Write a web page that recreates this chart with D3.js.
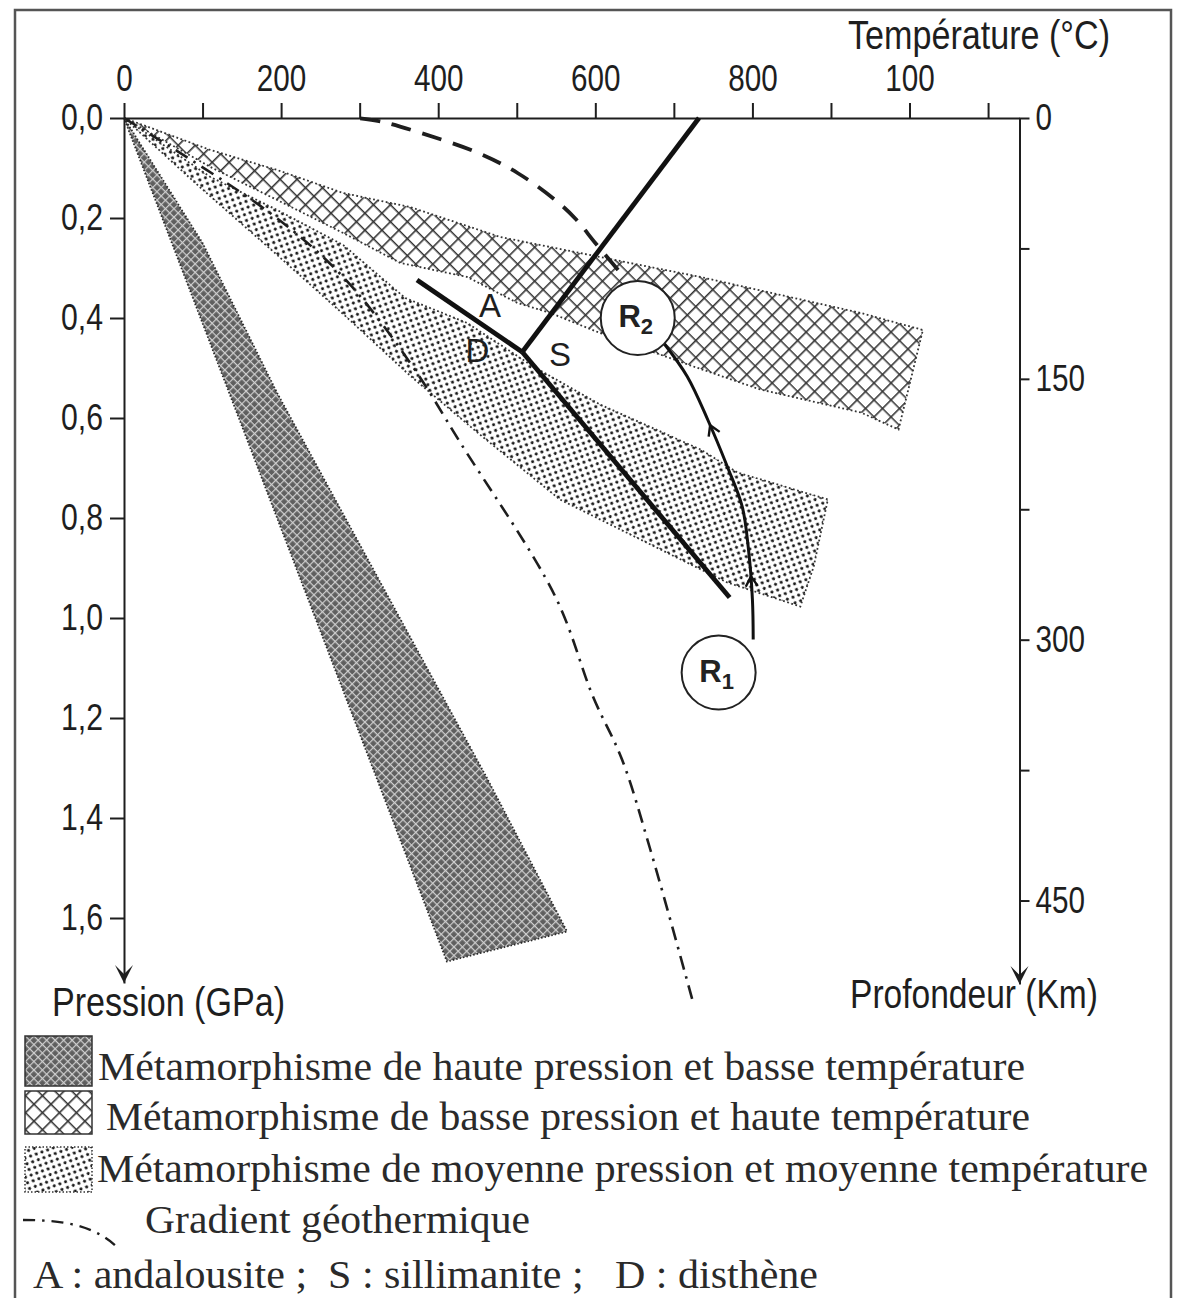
<!DOCTYPE html>
<html>
<head>
<meta charset="utf-8">
<script src="https://cdn.jsdelivr.net/npm/d3@7"></script>
<style>
  body { margin: 0; background: #fff; }
  svg { display: block; }
</style>
</head>
<body>
<div id="chart"></div>
<script>
// -------------------- Data --------------------

// top axis : temperature (°C). The figure prints "100" under the 1000 tick.
const tempTicks = [0, 100, 200, 300, 400, 500, 600, 700, 800, 900, 1000, 1100];
const tempLabels = { 0: "0", 200: "200", 400: "400", 600: "600", 800: "800", 1000: "100" };

// left axis : pressure (GPa)
const pressureTicks = [0, 0.2, 0.4, 0.6, 0.8, 1.0, 1.2, 1.4, 1.6];

// right axis : depth (km)
const depthTicks = [0, 75, 150, 225, 300, 375, 450];
const depthLabels = [0, 150, 300, 450];

// metamorphic fields, [temperature, pressure]
const hpltField = [[0, 0], [100, 0.25], [195, 0.55], [462, 1.32], [564, 1.627], [411, 1.687]];
const lphtField = [[0, 0], [110, 0.064], [195, 0.104], [279, 0.15], [364, 0.178], [479, 0.238],
  [606, 0.278], [734, 0.318], [938, 0.39], [1017, 0.424], [986, 0.623], [938, 0.589],
  [810, 0.543], [725, 0.497], [606, 0.43], [543, 0.39], [501, 0.37], [437, 0.318],
  [352, 0.29], [279, 0.23], [195, 0.164], [110, 0.098]];
const mpmtField = [[0, 0], [110, 0.118], [195, 0.184], [279, 0.254], [358, 0.36], [437, 0.41],
  [521, 0.497], [606, 0.573], [734, 0.663], [781, 0.709], [896, 0.763], [878, 0.897],
  [861, 0.977], [768, 0.929], [683, 0.863], [555, 0.763], [453, 0.633], [364, 0.515],
  [279, 0.392], [195, 0.274], [95, 0.136]];

// geothermal gradient (dash-dot)
const geotherm = [[0, 0], [186, 0.19], [279, 0.318], [364, 0.489], [428, 0.649], [549, 0.957],
  [597, 1.157], [634, 1.283], [670, 1.463], [725, 1.772]];

// dashed path from R2 up to the surface
const upperPath = [[629, 0.304], [600, 0.25], [575, 0.202], [549, 0.164], [501, 0.11],
  [451, 0.07], [378, 0.03], [330, 0.008], [298, 0]];

// P-T path from R1 to R2
const pathR1R2 = [[801, 1.043], [800, 0.963], [795, 0.863], [787, 0.777], [768, 0.697],
  [743, 0.603], [717, 0.517], [687, 0.45]];

// Al2SiO5 triple point and its three reaction lines
const triplePoint = [507, 0.468];
const reactionEnds = [[373, 0.324], [732, 0], [771, 0.959]];

const phaseLabels = [
  { text: "A", t: 466, p: 0.374 },
  { text: "D", t: 450, p: 0.464 },
  { text: "S", t: 555, p: 0.472 }
];

const samples = [
  { sub: "1", t: 757, p: 1.109 },
  { sub: "2", t: 654, p: 0.4 }
];

const legendTexts = [
  "Métamorphisme de haute pression et basse température",
  "Métamorphisme de basse pression et haute température",
  "Métamorphisme de moyenne pression et moyenne température",
  "Gradient géothermique",
  "A : andalousite ;  S : sillimanite ;   D : disthène"
];

// -------------------- Setup --------------------

const WIDTH = 1181;
const HEIGHT = 1298;
const SANS = "'Liberation Sans Narrow', 'Arial Narrow', 'Liberation Sans', Arial, sans-serif";
const SERIF = "'Liberation Serif', 'Times New Roman', serif";
const INK = "#1e1e1e";

const svg = d3.select("#chart")
  .append("svg")
  .attr("width", WIDTH)
  .attr("height", HEIGHT)
  .attr("viewBox", [0, 0, WIDTH, HEIGHT]);

// scales
const x = d3.scaleLinear().domain([0, 1140]).range([124, 1019.5]);
const y = d3.scaleLinear().domain([0, 1.73]).range([118, 983]);
const depth = d3.scaleLinear().domain([0, 498]).range([118, 984]);

const line = d3.line().x(d => x(d[0])).y(d => y(d[1]));
const smooth = d3.line().x(d => x(d[0])).y(d => y(d[1])).curve(d3.curveCatmullRom.alpha(0.5));

// ***** PATTERNS *****
const defs = svg.append("defs");

// dark field : grey with a fine light grid
const hp = defs.append("pattern").attr("id", "hp")
  .attr("patternUnits", "userSpaceOnUse").attr("width", 6).attr("height", 6)
  .attr("patternTransform", "rotate(45)");
hp.append("rect").attr("width", 6).attr("height", 6).attr("fill", "#5f5f5f");
hp.append("path").attr("d", "M0,0.6H6M0.6,0V6").attr("stroke", "#cfcfcf").attr("stroke-width", 1.2);

// cross-hatched field
const lp = defs.append("pattern").attr("id", "lp")
  .attr("patternUnits", "userSpaceOnUse").attr("width", 12).attr("height", 12)
  .attr("patternTransform", "rotate(45)");
lp.append("rect").attr("width", 12).attr("height", 12).attr("fill", "#fff");
lp.append("path").attr("d", "M0,0.8H12M0.8,0V12").attr("stroke", "#333").attr("stroke-width", 1.6);

// stippled field
const mp = defs.append("pattern").attr("id", "mp")
  .attr("patternUnits", "userSpaceOnUse").attr("width", 8.5).attr("height", 8.5)
  .attr("patternTransform", "rotate(25)");
mp.append("rect").attr("width", 8.5).attr("height", 8.5).attr("fill", "#fff");
mp.append("circle").attr("cx", 2.1).attr("cy", 2.1).attr("r", 1.55).attr("fill", "#1a1a1a");
mp.append("circle").attr("cx", 6.35).attr("cy", 6.35).attr("r", 1.55).attr("fill", "#1a1a1a");

// -------------------- Frame --------------------
svg.append("rect")
  .attr("x", 15).attr("y", 10).attr("width", 1156).attr("height", 1310)
  .attr("fill", "none").attr("stroke", "#555").attr("stroke-width", 2.5);

// -------------------- Fields --------------------
const fields = svg.append("g");

fields.append("path")
  .attr("d", line(mpmtField) + "Z")
  .attr("fill", "url(#mp)")
  .attr("stroke", "#333").attr("stroke-width", 1.8).attr("stroke-dasharray", "1.8 2.5");

fields.append("path")
  .attr("d", line(lphtField) + "Z")
  .attr("fill", "url(#lp)")
  .attr("stroke", "#333").attr("stroke-width", 1.8).attr("stroke-dasharray", "1.8 2.5");

fields.append("path")
  .attr("d", line(hpltField) + "Z")
  .attr("fill", "url(#hp)")
  .attr("stroke", "#2a2a2a").attr("stroke-width", 1.8).attr("stroke-dasharray", "1.5 2");

// -------------------- Axes --------------------
const labelWidth = s => s.replace(/,/g, "").length * 16.5 + (s.includes(",") ? 9 : 0);

const styleAxis = (g, size) => {
  g.select(".domain").attr("stroke", INK).attr("stroke-width", 2);
  g.selectAll(".tick line").attr("stroke", INK).attr("stroke-width", 2);
  g.selectAll(".tick text")
    .attr("fill", INK)
    .attr("font-family", SANS)
    .attr("font-size", size)
    .each(function () {
      const s = d3.select(this).text();
      if (s) d3.select(this).attr("textLength", labelWidth(s)).attr("lengthAdjust", "spacingAndGlyphs");
    });
};

const topAxis = svg.append("g")
  .attr("transform", `translate(0,${y(0)})`)
  .call(d3.axisTop(x).tickValues(tempTicks).tickFormat(d => tempLabels[d] || "")
    .tickSize(15).tickSizeOuter(0).tickPadding(12));
styleAxis(topAxis, 37);

const leftAxis = svg.append("g")
  .attr("transform", `translate(${x(0)},0)`)
  .call(d3.axisLeft(y).tickValues(pressureTicks).tickFormat(d => d3.format(".1f")(d).replace(".", ","))
    .tickSize(14).tickSizeOuter(0).tickPadding(7));
styleAxis(leftAxis, 37);

const xRight = x(1140);
const rightAxis = svg.append("g")
  .attr("transform", `translate(${xRight},0)`)
  .call(d3.axisRight(depth).tickValues(depthTicks).tickFormat(d => depthLabels.includes(d) ? d : "")
    .tickSize(10).tickSizeOuter(0).tickPadding(6));
styleAxis(rightAxis, 37);

// arrow heads at the bottom of both vertical axes
const arrowHead = "M-9,-18L0,0L9,-18L0,-9Z";
svg.append("path").attr("d", arrowHead).attr("fill", INK)
  .attr("transform", `translate(${x(0)},${y(1.73)})`);
svg.append("path").attr("d", arrowHead).attr("fill", INK)
  .attr("transform", `translate(${xRight},${depth(498)})`);

// axis titles
const axisTitles = [
  { text: "Température (°C)", x: 848, y: 49, w: 262 },
  { text: "Pression (GPa)", x: 52, y: 1016, w: 233 },
  { text: "Profondeur (Km)", x: 850, y: 1008, w: 248 }
];
svg.append("g").selectAll("text")
  .data(axisTitles)
  .join("text")
  .attr("x", d => d.x).attr("y", d => d.y)
  .attr("font-family", SANS).attr("font-size", 40).attr("fill", INK)
  .attr("textLength", d => d.w).attr("lengthAdjust", "spacingAndGlyphs")
  .text(d => d.text);

// -------------------- Lines --------------------

// geothermal gradient
svg.append("path")
  .attr("d", smooth(geotherm))
  .attr("fill", "none").attr("stroke", INK).attr("stroke-width", 2.6)
  .attr("stroke-dasharray", "14 7 2.5 7");

// dashed path toward the surface
svg.append("path")
  .attr("d", smooth(upperPath))
  .attr("fill", "none").attr("stroke", INK).attr("stroke-width", 3.8)
  .attr("stroke-dasharray", "20 12");

// reaction lines A / D / S
svg.append("g").selectAll("path")
  .data(reactionEnds)
  .join("path")
  .attr("d", d => line([triplePoint, d]))
  .attr("stroke", "#111").attr("stroke-width", 4.8).attr("fill", "none");

// P-T path R1 -> R2
const pt = svg.append("path")
  .attr("d", smooth(pathR1R2))
  .attr("fill", "none").attr("stroke", "#111").attr("stroke-width", 3);

// direction chevrons along the path
const ptNode = pt.node();
const ptLen = ptNode.getTotalLength();
[0.2, 0.7].forEach(f => {
  const a = ptNode.getPointAtLength(ptLen * f);
  const b = ptNode.getPointAtLength(ptLen * f + 2);
  const angle = Math.atan2(b.y - a.y, b.x - a.x) * 180 / Math.PI + 90;
  svg.append("path")
    .attr("d", "M-6,10L0,0L6,10")
    .attr("transform", `translate(${a.x},${a.y}) rotate(${angle})`)
    .attr("fill", "none").attr("stroke", "#111").attr("stroke-width", 2.4);
});

// phase labels
svg.append("g").selectAll("text")
  .data(phaseLabels)
  .join("text")
  .attr("x", d => x(d.t)).attr("y", d => y(d.p))
  .attr("dy", "0.36em").attr("text-anchor", "middle")
  .attr("font-family", SANS).attr("font-size", 33).attr("fill", INK)
  .text(d => d.text);

// sample circles R1, R2
const sampleG = svg.append("g").selectAll("g")
  .data(samples)
  .join("g")
  .attr("transform", d => `translate(${x(d.t)},${y(d.p)})`);
sampleG.append("circle")
  .attr("r", 37).attr("fill", "#fff").attr("stroke", "#222").attr("stroke-width", 2);
const sampleText = sampleG.append("text")
  .attr("x", -2).attr("y", 9).attr("text-anchor", "middle")
  .attr("font-family", "'Liberation Sans', Arial, sans-serif").attr("font-weight", "bold")
  .attr("fill", "#222");
sampleText.append("tspan").attr("font-size", 31).text("R");
sampleText.append("tspan").attr("font-size", 22).attr("dy", 7).text(d => d.sub);

// -------------------- Legend --------------------
const legend = svg.append("g");
const swatches = [
  { y: 1036, h: 50, fill: "url(#hp)", dash: null },
  { y: 1091, h: 43, fill: "url(#lp)", dash: null },
  { y: 1147, h: 45, fill: "url(#mp)", dash: "1.5 2" }
];
legend.selectAll("rect")
  .data(swatches)
  .join("rect")
  .attr("x", 25).attr("y", d => d.y).attr("width", 67).attr("height", d => d.h)
  .attr("fill", d => d.fill).attr("stroke", "#333").attr("stroke-width", 1.5)
  .attr("stroke-dasharray", d => d.dash);

const legendRows = [
  { x: 98, y: 1080, w: 927 },
  { x: 106, y: 1130, w: 924 },
  { x: 97, y: 1182, w: 1051 },
  { x: 145, y: 1233, w: 385 },
  { x: 33, y: 1288, w: 785 }
];
legend.selectAll("text")
  .data(legendRows)
  .join("text")
  .attr("x", d => d.x).attr("y", d => d.y)
  .attr("font-family", SERIF).attr("font-size", 41).attr("fill", "#2a2a2a")
  .attr("textLength", d => d.w).attr("lengthAdjust", "spacingAndGlyphs")
  .style("white-space", "pre")
  .text((d, i) => legendTexts[i]);

// small dash-dot sample for the gradient
legend.append("path")
  .attr("d", "M23,1220 C60,1220 95,1224 120,1250")
  .attr("fill", "none").attr("stroke", INK).attr("stroke-width", 2.4)
  .attr("stroke-dasharray", "12 7 2.5 7");
</script>
</body>
</html>
